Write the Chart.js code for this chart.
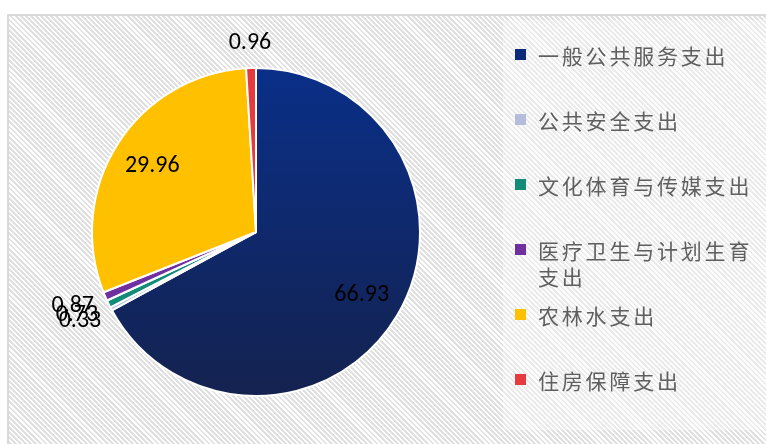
<!DOCTYPE html>
<html>
<head>
<meta charset="utf-8">
<script src="https://cdn.jsdelivr.net/npm/chart.js@4.4.1/dist/chart.umd.min.js"></script>
<style>
    body {
        margin: 0;
        width: 766px;
        height: 444px;
        overflow: hidden;
        position: relative;
        background: #fff;
    }
    #quadro {
        position: absolute;
        left: 7px;
        top: 14px;
        width: 770px;
        height: 440px;
        border: 2px solid #d9d9d9;
        background: repeating-linear-gradient(45deg, #ffffff 0 1.6px, #e0e0e0 1.6px 3.6px);
    }
    #areaLegenda {
        position: absolute;
        left: 503px;
        top: 20px;
        width: 263px;
        height: 410px;
        background: rgba(255, 255, 255, 0.35);
    }
    #caixaGrafico {
        position: absolute;
        left: 0;
        top: 0;
        width: 766px;
        height: 444px;
    }
    .itemLegenda {
        position: absolute;
        left: 515px;
    }
    .marcador {
        position: absolute;
        left: 0;
        width: 11px;
        height: 11px;
    }
    .textoLegenda {
        position: absolute;
        left: 23px;
        top: 0;
        width: 224px;
        font-family: "Noto Sans CJK SC", sans-serif;
        font-size: 21px;
        letter-spacing: 2.8px;
        line-height: 26px;
        color: #5f5f5f;
        word-break: break-all;
    }
</style>
</head>
<body>
<div id="quadro"></div>
<div id="areaLegenda"></div>
<div id="caixaGrafico"><canvas id="graficoPizza"></canvas></div>
<div id="legenda"></div>

<script>
const categorias = ['一般公共服务支出', '公共安全支出', '文化体育与传媒支出', '医疗卫生与计划生育支出', '农林水支出', '住房保障支出']
const valores = [66.93, 0.33, 0.73, 0.87, 29.96, 0.96]
const cores = ['#0b2a7a', '#b4bedc', '#128b78', '#7030a0', '#ffc000', '#e63a3f']

// legenda em html, do lado direito
const legenda = document.getElementById('legenda')
categorias.forEach((nome, i) => {
    const centro = 55 + i * 65
    const item = document.createElement('div')
    item.className = 'itemLegenda'
    item.style.top = (centro - 13) + 'px'
    item.innerHTML = `<div class="marcador" style="top:7px;background:${cores[i]}"></div>` +
        `<div class="textoLegenda">${nome}</div>`
    legenda.appendChild(item)
})

// rótulos com os valores
const rotulosValores = {
    id: 'rotulosValores',
    afterDatasetsDraw(chart) {
        const { ctx } = chart
        const arcos = chart.getDatasetMeta(0).data

        ctx.save()
        ctx.font = '24px Carlito, Lato, sans-serif'
        ctx.fillStyle = '#000'
        ctx.textAlign = 'center'
        ctx.textBaseline = 'middle'

        arcos.forEach((arco, i) => {
            const { x, y, startAngle, endAngle, outerRadius } = arco.getProps(['x', 'y', 'startAngle', 'endAngle', 'outerRadius'], true)
            const meio = (startAngle + endAngle) / 2
            const texto = valores[i].toFixed(2)
            const cos = Math.cos(meio)
            const sen = Math.sin(meio)

            if (valores[i] > 5) {
                const d = outerRadius * 0.75
                ctx.fillText(texto, x + cos * d, y + sen * d)
            } else {
                const larg = ctx.measureText(texto).width / 2
                const d = outerRadius + 14
                ctx.fillText(texto, x + cos * d + cos * larg, y + sen * d + sen * 11)
            }
        })
        ctx.restore()
    }
}

function corFatia(context) {
    const i = context.dataIndex
    const area = context.chart.chartArea
    if (i !== 0 || !area) {
        return cores[i]
    }
    const grad = context.chart.ctx.createLinearGradient(0, area.top, 0, area.bottom)
    grad.addColorStop(0, '#0a2f88')
    grad.addColorStop(1, '#14224f')
    return grad
}

const graficoPizza = document.getElementById('graficoPizza')
new Chart(graficoPizza, {
    type: 'pie',
    data: {
        labels: categorias,
        datasets: [{
            data: valores,
            backgroundColor: corFatia,
            borderColor: '#ffffff',
            borderWidth: 2
        }]
    },
    options: {
        responsive: true,
        maintainAspectRatio: false,
        animation: false,
        layout: {
            padding: { left: 91, right: 345, top: 67, bottom: 47 }
        },
        plugins: {
            legend: {
                display: false
            },
            tooltip: {
                enabled: false
            }
        }
    },
    plugins: [rotulosValores]
})
</script>
</body>
</html>
